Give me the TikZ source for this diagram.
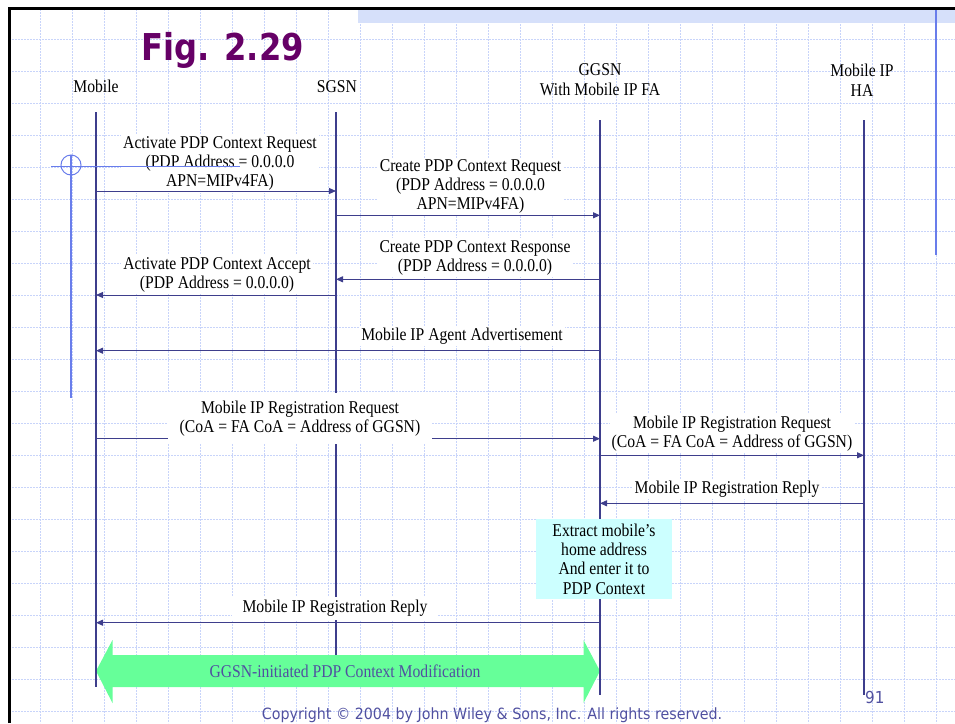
\documentclass[tikz,border=0pt]{standalone}
\usepackage{fontspec}
\setmainfont{Liberation Serif}[FakeStretch=0.87]
\newfontfamily\figfont{DejaVu Sans}[FakeStretch=0.87]
\newfontfamily\notefont{DejaVu Sans}[FakeStretch=0.92]
\usetikzlibrary{arrows.meta}
\definecolor{lifeblue}{RGB}{62,62,140}
\definecolor{gridblue}{RGB}{200,212,250}
\definecolor{bandblue}{RGB}{214,224,250}
\definecolor{markblue}{RGB}{105,125,235}
\definecolor{figpurple}{RGB}{102,0,102}
\definecolor{noteblue}{RGB}{80,80,160}
\definecolor{boxcyan}{RGB}{204,255,255}
\definecolor{modgreen}{RGB}{102,255,153}
\tikzset{seq/.cd,
         head/.style={font=\fontsize{18}{20}\selectfont,align=center,inner sep=0pt},
         life/.style={draw=lifeblue,line width=2pt},
         msg/.style={draw=lifeblue,line width=1pt,-{Triangle[length=7pt,width=6pt]}},
         label/.style={font=\fontsize{18}{19}\selectfont,align=center,fill=white,inner sep=2pt},
         grid/.style={draw=gridblue,line width=0.8pt,dash pattern=on 2pt off 1pt},
         note/.style={font=\notefont\fontsize{15.5}{18}\selectfont,text=noteblue,inner sep=0pt}}

\begin{document}
\begin{tikzpicture}[x=1pt,y=-1pt]
\useasboundingbox (0,0) rectangle (955,723);
% background grid
\foreach \gx in {40,72,...,936}
  \draw[seq/grid] (\gx,9) -- (\gx,723);
\foreach \gy in {39,71,...,711}
  \draw[seq/grid] (9,\gy) -- (955,\gy);
\fill[bandblue] (358,10) rectangle (955,23);
\draw[black,line width=3pt] (9,723) -- (9,8.3) -- (955,8.3);
\draw[markblue,line width=2pt] (936,10) -- (936,255);

\node[font=\figfont\bfseries\fontsize{37}{40}\selectfont,text=figpurple,
      anchor=base west,inner sep=0pt] (fig) at (141,60) {Fig. 2.29};

% entities
\node[seq/head,anchor=base] (mobile) at (96,92) {Mobile};
\node[seq/head,anchor=base] (sgsn) at (337,92) {SGSN};
\node[seq/head] (ggsn) at (600,80) {GGSN\\With Mobile IP FA};
\node[seq/head] (ha) at (862,80) {Mobile IP\\HA};

\coordinate (mobile-top) at (96,112);  \coordinate (mobile-end) at (96,687);
\coordinate (sgsn-top) at (336,112);   \coordinate (sgsn-end) at (336,655);
\coordinate (ggsn-top) at (600,120);   \coordinate (ggsn-end) at (600,695);
\coordinate (ha-top) at (864,120);     \coordinate (ha-end) at (864,695);

% context modification
\fill[modgreen] (96,671) -- (112.5,640) -- (112.5,655) -- (583.5,655) -- (583.5,640)
  -- (600,671) -- (583.5,703) -- (583.5,687) -- (112.5,687) -- (112.5,703) -- cycle;
\node[font=\fontsize{18}{19}\selectfont,text=noteblue] (modify) at (345,671)
  {GGSN-initiated PDP Context Modification};

\foreach \who in {mobile,sgsn,ggsn,ha}
  \draw[seq/life] (\who-top) -- (\who-end);

\coordinate (row0) at (0,438.7);
\draw[seq/msg] (mobile-top |- row0) -- (ggsn-top |- row0);

% message texts
\node[seq/label] (act-req) at (220,163.8)
  {Activate PDP Context Request\\(PDP Address = 0.0.0.0\\APN=MIPv4FA)};
\node[seq/label] (create-req) at (470.5,186.8)
  {Create PDP Context Request\\(PDP Address = 0.0.0.0\\APN=MIPv4FA)};
\node[seq/label] (create-resp) at (475,257.8)
  {Create PDP Context Response\\(PDP Address = 0.0.0.0)};
\node[seq/label] (act-acc) at (217,274.8)
  {Activate PDP Context Accept\\(PDP Address = 0.0.0.0)};
\node[seq/label] (agent-adv) at (462,336.3) {Mobile IP Agent Advertisement};
\node[seq/label,inner xsep=12pt,inner ysep=8pt] (reg-req) at (300,418.2)
  {Mobile IP Registration Request\\(CoA = FA CoA = Address of GGSN)};
\node[seq/label] (fa-reg-req) at (732,433.8)
  {Mobile IP Registration Request\\(CoA = FA CoA = Address of GGSN)};
\node[seq/label] (ha-reg-rep) at (727,488.8) {Mobile IP Registration Reply};
\node[seq/label,inner xsep=11pt,inner ysep=3.5pt] (reg-rep) at (335,608.5)
  {Mobile IP Registration Reply};

% messages
\foreach \from/\to/\y [count=\i] in {mobile/sgsn/191,sgsn/ggsn/215.3,ggsn/sgsn/279.3,
    sgsn/mobile/295,ggsn/mobile/350.7,ggsn/ha/455.3,ha/ggsn/503.3,ggsn/mobile/622.7} {
  \coordinate (row\i) at (0,\y);
  \draw[seq/msg] (\from-top |- row\i) -- (\to-top |- row\i);
}

\node[fill=boxcyan,minimum width=136pt,minimum height=80pt,inner sep=0pt,
      font=\fontsize{18}{19.3}\selectfont,align=center] (extract) at (604,559)
  {Extract mobile’s\\home address\\And enter it to\\PDP Context};

\node[seq/note,anchor=base] (copyright) at (492,719)
  {Copyright © 2004 by John Wiley \& Sons, Inc. All rights reserved.};
\node[seq/note,font=\notefont\fontsize{16.5}{18}\selectfont,anchor=base west] (page) at (865,703) {91};

% pointer marks
\draw[markblue,line width=1pt] (71,165) circle[radius=10pt];
\draw[markblue,line width=1pt] (51,166) -- (240,166);
\draw[markblue,line width=1.6pt] (71,155) -- (71,398);
\end{tikzpicture}
\end{document}
